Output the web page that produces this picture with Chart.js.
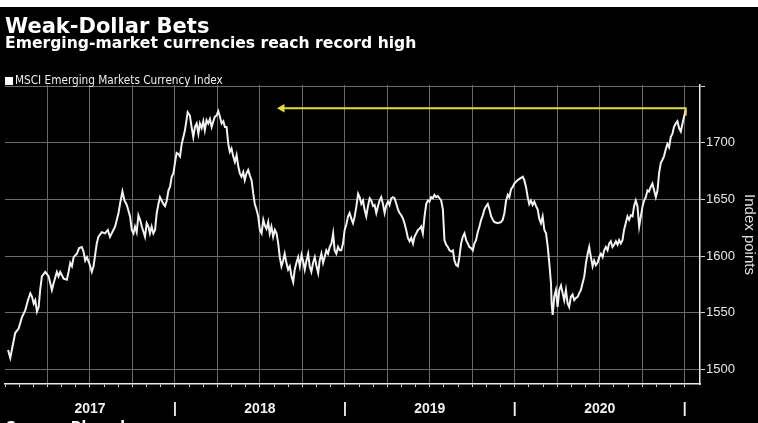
<!DOCTYPE html>
<html><head><meta charset="utf-8">
<script src="https://cdn.jsdelivr.net/npm/chart.js@4.4.1/dist/chart.umd.min.js"></script>
<style>
html,body{margin:0;padding:0;background:#000;width:758px;height:423px;overflow:hidden;}
#wrap{position:relative;width:758px;height:423px;background:#000;overflow:hidden;}
#topstrip{position:absolute;left:0;top:0;width:758px;height:7px;background:#fff;}
canvas{position:absolute;left:0;top:0;}
.t{position:absolute;color:#fff;white-space:nowrap;font-family:'DejaVu Sans',sans-serif;font-weight:bold;}
#leg{position:absolute;left:5px;top:73px;color:#eee;font-family:'DejaVu Sans Condensed','Liberation Sans',sans-serif;font-size:11.7px;white-space:nowrap;}
#leg .sq{display:inline-block;width:8px;height:8px;background:#fff;margin-right:2px;vertical-align:-1px;}
</style></head><body>
<div id="wrap">
<canvas id="c" width="758" height="423" style="width:758px;height:423px"></canvas>
<div id="topstrip"></div>
<div class="t" style="left:5px;top:14px;font-size:21px;">Weak-Dollar Bets</div>
<div class="t" style="left:5px;top:34px;font-size:15.6px;">Emerging-market currencies reach record high</div>
<div id="leg"><span class="sq"></span>MSCI Emerging Markets Currency Index</div>
<div class="t" style="left:6px;top:418px;font-size:14px;">Source: Bloomberg</div>
</div>
<script>
// Decimal-year dates and MSCI EM Currency Index values
const dates = [
2017.018,2017.031,2017.060,2017.080,2017.100,2017.119,2017.135,2017.149,2017.159,2017.169,2017.178,2017.188,2017.198,2017.207,2017.217,2017.237,2017.257,2017.276,2017.286,2017.305,2017.315,2017.325,2017.345,2017.364,2017.374,2017.384,2017.394,2017.404,2017.423,2017.436,2017.452,2017.462,2017.472,2017.482,2017.495,2017.511,2017.521,2017.540,2017.550,2017.570,2017.589,2017.605,2017.618,2017.628,2017.648,2017.658,2017.668,2017.677,2017.691,2017.703,2017.717,2017.736,2017.746,2017.756,2017.765,2017.775,2017.785,2017.795,2017.805,2017.824,2017.834,2017.844,2017.853,2017.863,2017.873,2017.883,2017.893,2017.903,2017.912,2017.932,2017.942,2017.952,2017.962,2017.971,2017.981,2017.991,2018.000,2018.010,2018.020,2018.030,
2018.040,2018.059,2018.075,2018.088,2018.098,2018.108,2018.118,2018.128,2018.138,2018.147,2018.157,2018.167,2018.176,2018.186,2018.196,2018.206,2018.216,2018.226,2018.235,2018.245,2018.255,2018.265,2018.275,2018.285,2018.294,2018.304,2018.314,2018.323,2018.333,2018.343,2018.353,2018.363,2018.373,2018.382,2018.392,2018.402,2018.411,2018.421,2018.431,2018.441,2018.451,2018.461,2018.470,2018.480,2018.490,2018.500,2018.510,2018.520,2018.529,2018.539,2018.549,2018.558,2018.568,2018.578,2018.588,2018.598,2018.608,2018.617,2018.627,2018.637,2018.646,2018.656,2018.666,2018.676,2018.686,2018.696,2018.705,2018.715,2018.725,2018.735,2018.745,2018.755,2018.764,2018.774,2018.784,2018.793,2018.803,2018.813,2018.823,2018.833,2018.843,2018.852,2018.862,2018.872,2018.881,2018.891,2018.901,2018.911,2018.921,2018.931,2018.940,2018.950,2018.960,2018.970,2018.979,
2018.989,2018.999,2019.009,2019.019,2019.028,2019.038,2019.048,2019.058,2019.068,2019.078,2019.087,2019.097,2019.107,2019.116,2019.126,2019.136,2019.146,2019.156,2019.166,2019.175,2019.185,2019.195,2019.204,2019.214,2019.224,2019.234,2019.244,2019.254,2019.263,2019.273,2019.283,2019.293,2019.303,2019.313,2019.322,2019.332,2019.342,2019.351,2019.361,2019.371,2019.381,2019.391,2019.401,2019.410,2019.420,2019.430,2019.439,2019.449,2019.459,2019.469,2019.479,2019.489,2019.498,2019.508,2019.518,2019.527,2019.537,2019.547,2019.557,2019.567,2019.577,2019.586,2019.596,2019.606,2019.616,2019.626,2019.636,2019.645,2019.655,2019.665,2019.674,2019.684,2019.694,2019.704,2019.714,2019.724,2019.733,2019.743,2019.753,2019.762,2019.772,2019.782,2019.792,2019.802,2019.812,2019.821,2019.831,2019.841,2019.851,2019.861,2019.871,2019.880,2019.900,2019.919,2019.929,2019.939,2019.949,2019.959,2019.968,
2019.978,2019.988,2019.997,2020.017,2020.037,2020.047,2020.056,2020.066,2020.076,2020.085,2020.095,2020.105,2020.115,2020.125,2020.135,2020.144,2020.154,2020.164,2020.174,2020.184,2020.194,2020.203,2020.213,2020.217,2020.223,2020.229,2020.232,2020.242,2020.252,2020.262,2020.272,2020.282,2020.291,2020.301,2020.311,2020.320,2020.330,2020.340,2020.350,2020.360,2020.370,2020.379,2020.389,2020.399,2020.409,2020.419,2020.429,2020.438,2020.448,2020.458,2020.467,2020.477,2020.487,2020.497,2020.507,2020.517,2020.526,2020.536,2020.546,2020.555,2020.565,2020.575,2020.585,2020.595,2020.605,2020.614,2020.624,2020.634,2020.643,2020.653,2020.663,2020.673,2020.683,2020.693,2020.702,2020.712,2020.722,2020.732,2020.742,2020.752,2020.761,2020.771,2020.781,2020.790,2020.800,2020.810,2020.820,2020.830,2020.840,2020.849,2020.859,2020.869,2020.878,2020.888,2020.898,2020.908,2020.918,2020.928,2020.937,2020.947,2020.957,2020.967,2020.977,2020.987,2020.996,2021.006
];
const values = [
1517,1510,1532,1536,1546,1552,1561,1567,1564,1558,1561,1551,1555,1570,1582,1586,1582,1570,1576,1586,1582,1586,1580,1579,1586,1594,1591,1599,1602,1607,1608,1604,1596,1599,1594,1586,1591,1611,1617,1621,1620,1623,1617,1620,1626,1632,1638,1646,1657,1649,1645,1635,1623,1620,1626,1621,1636,1632,1626,1617,1629,1626,1620,1626,1620,1623,1638,1646,1652,1646,1644,1649,1658,1661,1670,1673,1682,1691,1690,1688,
1699,1711,1727,1724,1714,1705,1714,1717,1708,1717,1713,1719,1711,1720,1717,1721,1714,1719,1723,1724,1728,1723,1717,1719,1714,1714,1699,1692,1695,1688,1683,1689,1679,1673,1670,1674,1667,1673,1676,1671,1667,1655,1646,1641,1635,1623,1620,1632,1627,1624,1630,1620,1626,1617,1623,1620,1611,1599,1591,1596,1602,1594,1588,1591,1582,1577,1588,1594,1599,1591,1601,1595,1588,1596,1602,1591,1586,1594,1599,1591,1585,1596,1602,1594,1599,1605,1602,1608,1611,1620,1605,1602,1608,1605,1605,
1611,1623,1628,1635,1638,1633,1629,1635,1644,1655,1652,1646,1649,1641,1635,1644,1651,1649,1644,1645,1638,1644,1649,1652,1646,1638,1645,1648,1645,1651,1652,1651,1646,1641,1638,1636,1633,1629,1623,1616,1613,1616,1611,1617,1620,1623,1624,1626,1620,1635,1646,1649,1648,1652,1651,1654,1652,1653,1651,1649,1641,1614,1610,1608,1605,1604,1605,1596,1592,1591,1599,1611,1617,1620,1614,1611,1608,1607,1605,1611,1614,1621,1626,1632,1636,1641,1644,1646,1641,1635,1632,1630,1629,1630,1632,1638,1649,1654,1652,
1659,1661,1664,1667,1669,1670,1667,1661,1652,1646,1649,1645,1648,1644,1641,1633,1629,1635,1623,1620,1608,1594,1576,1558,1548,1558,1564,1570,1555,1570,1574,1567,1561,1570,1558,1555,1564,1566,1561,1563,1564,1567,1570,1576,1582,1594,1602,1608,1599,1591,1596,1592,1594,1599,1602,1599,1605,1608,1605,1611,1613,1608,1610,1613,1610,1614,1611,1614,1623,1629,1635,1632,1636,1635,1644,1649,1644,1626,1635,1644,1649,1652,1658,1657,1661,1664,1658,1652,1658,1673,1682,1685,1688,1694,1699,1696,1705,1708,1714,1717,1719,1713,1710,1717,1723,1729
];
const years = ['2017','2018','2019','2020'];
const yTicks = [1500,1550,1600,1650,1700,1750];
const yLabelled = [1500,1550,1600,1650,1700];
// Arrow from the 2018 high to the latest reading
const arrowX = [2018.63, 2021.006, 2021.006];
const arrowY = [1730.5, 1730.5, 1724];

const monthTicks = [];
for (let m = 0; m <= years.length * 12; m++) monthTicks.push(Number(years[0]) + m / 12);

const series = dates.map((d, i) => ({x: d, y: values[i]}));
const arrow = arrowX.map((d, i) => ({x: d, y: arrowY[i]}));

new Chart(document.getElementById('c'), {
  type: 'line',
  data: {
    datasets: [
      {data: arrow, borderColor: '#e6dc3c', backgroundColor: '#e6dc3c', borderWidth: 2,
       pointStyle: 'triangle', rotation: -90, pointRadius: [5, 0, 0], pointBorderWidth: 0, tension: 0},
      {data: series, borderColor: '#f2f2f2', borderWidth: 2, pointRadius: 0, tension: 0}
    ]
  },
  options: {
    responsive: false, animation: false, devicePixelRatio: 1,
    layout: {padding: {top: 85, left: 3, right: 0, bottom: 0}},
    plugins: {legend: {display: false}, tooltip: {enabled: false}},
    scales: {
      x: {
        type: 'linear', min: 2017, max: 2021.09,
        afterBuildTicks: s => { s.ticks = monthTicks.map(v => ({value: v})); },
        afterFit: s => { s.height = 39; s.paddingLeft = 0; s.paddingRight = 0; },
        border: {color: '#e8e8e8', width: 1.5},
        grid: {
          color: c => (c.index % 3 === 0 && c.index > 0) ? '#6a6a6a' : 'rgba(0,0,0,0)',
          tickColor: '#d0d0d0', tickLength: 3, lineWidth: 1
        },
        ticks: {
          autoSkip: false, maxRotation: 0, minRotation: 0, padding: 14, color: '#f0f0f0',
          font: {family: "'Liberation Sans','DejaVu Sans',sans-serif", size: 14, weight: 'bold'},
          callback: (v, i) => (i % 12 === 6) ? years[Math.floor(i / 12)] : ((i % 12 === 0 && i > 0) ? '|' : '')
        }
      },
      y: {
        position: 'right', min: 1487, max: 1751,
        afterBuildTicks: s => { s.ticks = yTicks.map(v => ({value: v})); },
        afterFit: s => { s.width = 58; },
        border: {color: '#e8e8e8', width: 1.5},
        grid: {color: '#6a6a6a', tickColor: '#d0d0d0', tickLength: 5, lineWidth: 1},
        ticks: {
          padding: 1, color: '#e6e6e6',
          font: {family: "'Liberation Sans','DejaVu Sans',sans-serif", size: 13},
          callback: v => yLabelled.includes(v) ? String(v) : ''
        },
        title: {display: true, text: 'Index points', color: '#e0e0e0', padding: {top: 0, bottom: 2},
          font: {family: "'Liberation Sans','DejaVu Sans',sans-serif", size: 15}}
      }
    }
  }
});
</script>
</body></html>
